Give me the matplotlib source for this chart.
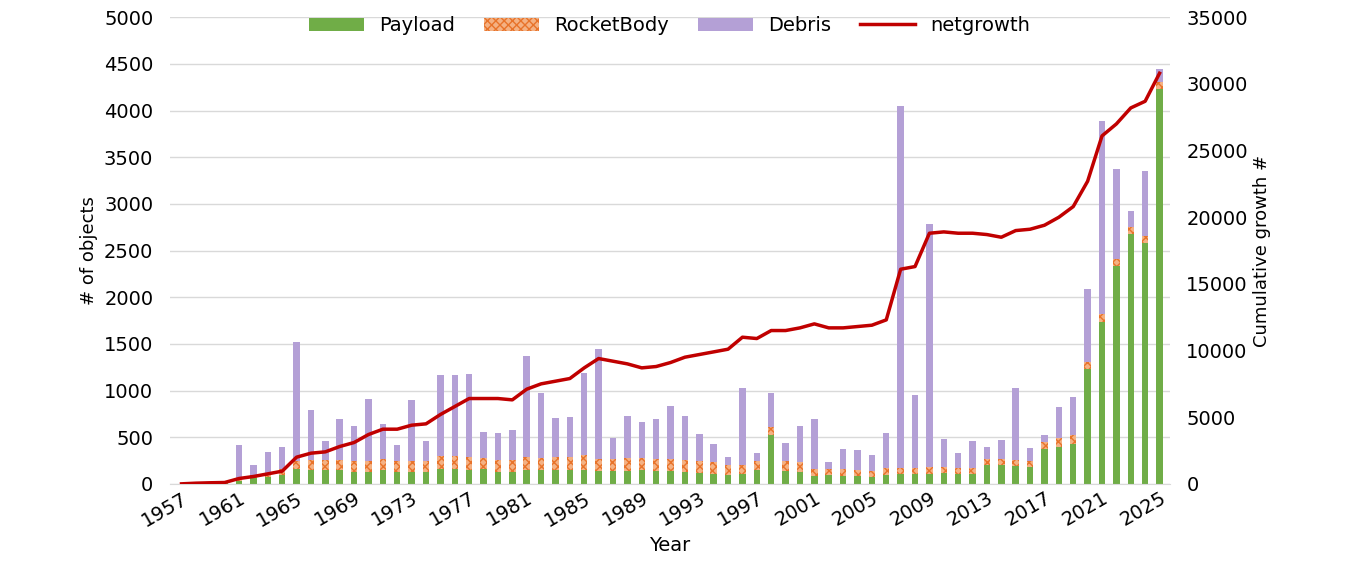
import numpy as np
import matplotlib.pyplot as plt

years = list(range(1957, 2026))
total = [2, 5, 5, 20, 420, 200, 340, 400, 1520, 790, 460, 690, 620, 910, 640, 420, 900, 460,
         1170, 1170, 1180, 560, 540, 580, 1370, 970, 710, 720, 1190, 1440, 490, 730, 660, 690,
         830, 730, 530, 430, 290, 1030, 330, 970, 440, 620, 690, 230, 370, 360, 310, 550, 4050,
         950, 2780, 480, 330, 460, 400, 470, 1030, 380, 520, 820, 930, 2090, 3890, 3370, 2920,
         3350, 4450]
payload = [1, 5, 5, 15, 30, 60, 70, 100, 160, 150, 150, 150, 130, 130, 150, 130, 130, 130,
           160, 160, 150, 160, 130, 130, 150, 150, 150, 150, 150, 140, 140, 140, 150, 140,
           140, 130, 120, 110, 100, 110, 150, 520, 140, 130, 80, 90, 80, 80, 70, 100, 110,
           110, 110, 120, 110, 110, 200, 200, 190, 180, 370, 400, 430, 1230, 1730, 2330, 2680,
           2580, 4230]
rocketbody = [1, 0, 0, 5, 20, 40, 50, 60, 90, 110, 110, 110, 120, 120, 120, 120, 120, 120,
              140, 140, 140, 120, 130, 130, 140, 130, 140, 140, 160, 130, 130, 140, 130, 130,
              130, 130, 120, 120, 100, 90, 100, 90, 110, 100, 80, 70, 80, 70, 70, 70, 60,
              60, 70, 60, 60, 60, 70, 70, 70, 70, 80, 90, 90, 80, 90, 80, 70, 80, 80]
debris = [max(t - p - r, 0) for t, p, r in zip(total, payload, rocketbody)]
netgrowth = [0, 50, 80, 100, 400, 550, 750, 950, 2000, 2300, 2400, 2800, 3100, 3700, 4100,
             4100, 4400, 4500, 5200, 5800, 6400, 6400, 6400, 6300, 7100, 7500, 7700, 7900,
             8700, 9400, 9200, 9000, 8700, 8800, 9100, 9500, 9700, 9900, 10100, 11000, 10900,
             11500, 11500, 11700, 12000, 11700, 11700, 11800, 11900, 12300, 16100, 16300,
             18800, 18900, 18800, 18800, 18700, 18500, 19000, 19100, 19400, 20000, 20800,
             22700, 26100, 27000, 28200, 28700, 30800]

x = np.arange(len(years))
fig, ax = plt.subplots(figsize=(13.6, 5.76), dpi=100)
plt.rcParams['hatch.color'] = '#e8732a'
w = 0.45
ax.bar(x, payload, w, color='#70ad47', label='Payload')
ax.bar(x, rocketbody, w, bottom=payload, color='#f4b183', hatch='xxxx',
       edgecolor='#e8732a', linewidth=0, label='RocketBody')
bot = [p + r for p, r in zip(payload, rocketbody)]
ax.bar(x, debris, w, bottom=bot, color='#b4a0d6', label='Debris')
ax.set_ylim(0, 5000)
ax.set_yticks(range(0, 5001, 500))
ax.set_xlim(-0.8, len(years) - 0.3)
ax.grid(axis='y', color='#d9d9d9', linewidth=1)
ax.set_axisbelow(True)
ax.set_xticks(x[::4])
ax.set_xticklabels(years[::4], rotation=30, ha='right', rotation_mode='anchor', fontsize=14)
ax.tick_params(axis='y', labelsize=14, length=0, pad=12)
ax.tick_params(axis='x', length=0)
ax.set_xlabel('Year', fontsize=14)
ax.set_ylabel('# of objects', fontsize=13)
for s in ax.spines.values():
    s.set_visible(False)
ax.spines['bottom'].set_visible(True)
ax.spines['bottom'].set_color('#d9d9d9')

ax2 = ax.twinx()
ax2.plot(x, netgrowth, color='#c00000', linewidth=2.5, label='netgrowth')
ax2.set_ylim(0, 35000)
ax2.set_yticks(range(0, 35001, 5000))
ax2.tick_params(axis='y', labelsize=14, length=0, pad=12)
ax2.set_ylabel('Cumulative growth #', fontsize=13)
for s in ax2.spines.values():
    s.set_visible(False)

h1, l1 = ax.get_legend_handles_labels()
h2, l2 = ax2.get_legend_handles_labels()
ax.legend(h1 + h2, l1 + l2, loc='upper center', bbox_to_anchor=(0.5, 1.04), ncol=4,
          frameon=False, fontsize=14, handlelength=2.8, columnspacing=1.5)
fig.subplots_adjust(left=0.125, right=0.86, top=0.97, bottom=0.16)
fig.savefig('out.png')
